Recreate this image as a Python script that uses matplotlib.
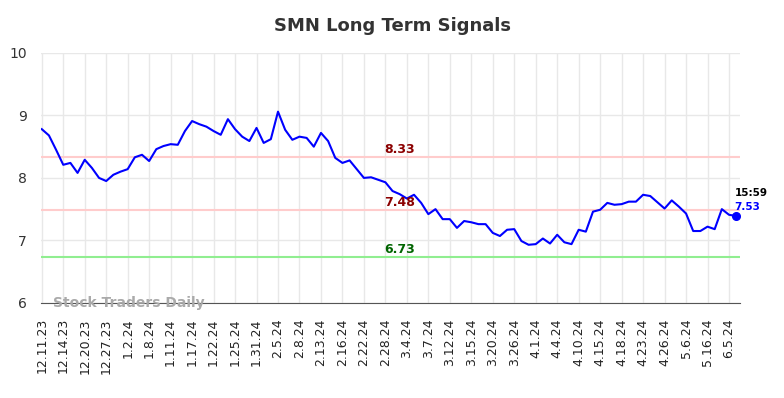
import matplotlib.pyplot as plt

# daily closes
prices = [
    8.78, 8.68, 8.45, 8.21, 8.24, 8.08, 8.29, 8.16, 8.00, 7.95,
    8.05, 8.10, 8.14, 8.33, 8.37, 8.27, 8.46, 8.51, 8.54, 8.53,
    8.75, 8.91, 8.86, 8.82, 8.75, 8.69, 8.94, 8.78, 8.66, 8.59,
    8.80, 8.56, 8.62, 9.06, 8.77, 8.61, 8.66, 8.64, 8.50, 8.72,
    8.59, 8.32, 8.24, 8.28, 8.14, 8.00, 8.01, 7.97, 7.93, 7.79,
    7.74, 7.67, 7.73, 7.60, 7.42, 7.50, 7.34, 7.34, 7.20, 7.31,
    7.29, 7.26, 7.26, 7.12, 7.07, 7.17, 7.18, 6.99, 6.93, 6.94,
    7.03, 6.95, 7.09, 6.97, 6.94, 7.17, 7.14, 7.46, 7.49, 7.60,
    7.57, 7.58, 7.62, 7.62, 7.73, 7.71, 7.61, 7.51, 7.64, 7.54,
    7.43, 7.15, 7.15, 7.22, 7.18, 7.50, 7.41, 7.39,
]
tick_labels = [
    '12.11.23', '12.14.23', '12.20.23', '12.27.23', '1.2.24', '1.8.24',
    '1.11.24', '1.17.24', '1.22.24', '1.25.24', '1.31.24', '2.5.24',
    '2.8.24', '2.13.24', '2.16.24', '2.22.24', '2.28.24', '3.4.24',
    '3.7.24', '3.12.24', '3.15.24', '3.20.24', '3.26.24', '4.1.24',
    '4.4.24', '4.10.24', '4.15.24', '4.18.24', '4.23.24', '4.26.24',
    '5.6.24', '5.16.24', '6.5.24',
]
upper, middle, lower = 8.33, 7.48, 6.73
last_time, last_label = '15:59', '7.53'

fig = plt.figure(figsize=(7.84, 3.98), dpi=100)
ax = fig.add_axes([0.052, 0.239, 0.892, 0.628])

x = list(range(len(prices)))
ax.axhline(upper, color='#ffcccc', lw=1.5, zorder=1)
ax.axhline(middle, color='#ffcccc', lw=1.5, zorder=1)
ax.axhline(lower, color='#90ee90', lw=1.5, zorder=1)
ax.plot(x, prices, color='#0000ff', lw=1.5, zorder=3)
ax.plot(x[-1], prices[-1], 'o', color='#0000ff', ms=5.5, zorder=4)

ax.set_xlim(-0.14, 97.55)
ax.set_ylim(6, 10)
ax.set_yticks([6, 7, 8, 9, 10])
ax.set_xticks(x[::3])
ax.set_xticklabels(tick_labels, rotation=90, fontsize=9, color='#222222')
ax.tick_params(axis='y', labelsize=10, colors='#333333', length=0, pad=10)
ax.tick_params(axis='x', length=0, pad=11)
ax.grid(True, color='#e8e8e8', lw=1)
ax.set_axisbelow(True)
for s in ['top', 'right', 'left']:
    ax.spines[s].set_visible(False)
ax.spines['bottom'].set_color('#555555')

mid = 50
ax.text(mid, upper + 0.12, f'{upper:.2f}', color='#8b0000', fontsize=9,
        fontweight='bold', ha='center', va='center')
ax.text(mid, middle + 0.12, f'{middle:.2f}', color='#8b0000', fontsize=9,
        fontweight='bold', ha='center', va='center')
ax.text(mid, lower + 0.13, f'{lower:.2f}', color='#006400', fontsize=9,
        fontweight='bold', ha='center', va='center')
ax.text(x[-1] - 0.2, prices[-1] + 0.37, last_time, color='black', fontsize=7.5,
        fontweight='bold', ha='left', va='center', clip_on=False)
ax.text(x[-1] - 0.2, prices[-1] + 0.15, last_label, color='#0000ff', fontsize=7.5,
        fontweight='bold', ha='left', va='center', clip_on=False)
ax.text(1.6, 6.0, 'Stock Traders Daily', color='#aaaaaa', fontsize=10,
        fontweight='bold', ha='left', va='center')

fig.text(0.5, 0.935, 'SMN Long Term Signals', ha='center', va='center',
         fontsize=13, fontweight='bold', color='#333333')

fig.savefig('out.png', dpi=100)
